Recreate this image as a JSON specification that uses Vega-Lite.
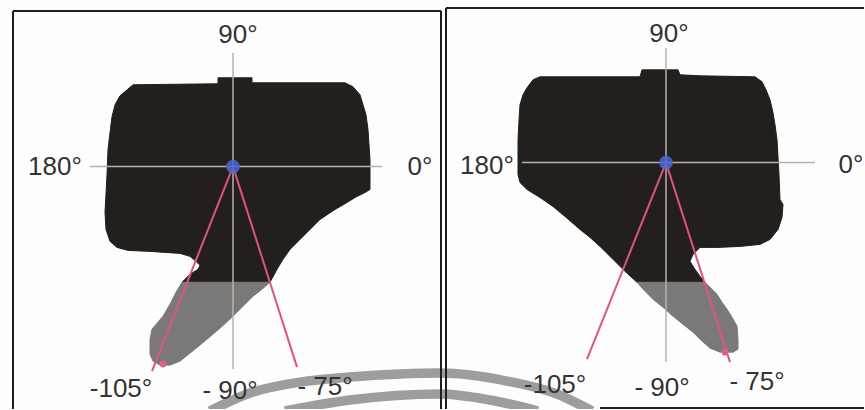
{
  "$schema": "https://vega.github.io/schema/vega-lite/v6.json",
  "width": 865,
  "height": 410,
  "autosize": {"type": "fit", "contains": "padding"},
  "padding": 0,
  "background": "#fdfdfd",
  "config": {"view": {"stroke": null}},
  "datasets": {
    "shapes": [
      {"id": "L1", "k": "black", "i": 1, "x": 126, "y": 91},
      {"id": "L1", "k": "black", "i": 2, "x": 133, "y": 85},
      {"id": "L1", "k": "black", "i": 3, "x": 218, "y": 84},
      {"id": "L1", "k": "black", "i": 4, "x": 218, "y": 78},
      {"id": "L1", "k": "black", "i": 5, "x": 252, "y": 78},
      {"id": "L1", "k": "black", "i": 6, "x": 252, "y": 83},
      {"id": "L1", "k": "black", "i": 7, "x": 345, "y": 83},
      {"id": "L1", "k": "black", "i": 8, "x": 353, "y": 87},
      {"id": "L1", "k": "black", "i": 9, "x": 360, "y": 95},
      {"id": "L1", "k": "black", "i": 10, "x": 363, "y": 105},
      {"id": "L1", "k": "black", "i": 11, "x": 366, "y": 115},
      {"id": "L1", "k": "black", "i": 12, "x": 368, "y": 130},
      {"id": "L1", "k": "black", "i": 13, "x": 370, "y": 160},
      {"id": "L1", "k": "black", "i": 14, "x": 370, "y": 190},
      {"id": "L1", "k": "black", "i": 15, "x": 365, "y": 193},
      {"id": "L1", "k": "black", "i": 16, "x": 355, "y": 198},
      {"id": "L1", "k": "black", "i": 17, "x": 347, "y": 203},
      {"id": "L1", "k": "black", "i": 18, "x": 335, "y": 210},
      {"id": "L1", "k": "black", "i": 19, "x": 320, "y": 220},
      {"id": "L1", "k": "black", "i": 20, "x": 310, "y": 230},
      {"id": "L1", "k": "black", "i": 21, "x": 300, "y": 240},
      {"id": "L1", "k": "black", "i": 22, "x": 290, "y": 250},
      {"id": "L1", "k": "black", "i": 23, "x": 283, "y": 260},
      {"id": "L1", "k": "black", "i": 24, "x": 277, "y": 270},
      {"id": "L1", "k": "black", "i": 25, "x": 270, "y": 283},
      {"id": "L1", "k": "black", "i": 26, "x": 182, "y": 283},
      {"id": "L1", "k": "black", "i": 27, "x": 190, "y": 275},
      {"id": "L1", "k": "black", "i": 28, "x": 198, "y": 270},
      {"id": "L1", "k": "black", "i": 29, "x": 200, "y": 266},
      {"id": "L1", "k": "black", "i": 30, "x": 196, "y": 262},
      {"id": "L1", "k": "black", "i": 31, "x": 190, "y": 257},
      {"id": "L1", "k": "black", "i": 32, "x": 180, "y": 254},
      {"id": "L1", "k": "black", "i": 33, "x": 150, "y": 252},
      {"id": "L1", "k": "black", "i": 34, "x": 128, "y": 251},
      {"id": "L1", "k": "black", "i": 35, "x": 117, "y": 248},
      {"id": "L1", "k": "black", "i": 36, "x": 110, "y": 242},
      {"id": "L1", "k": "black", "i": 37, "x": 106, "y": 230},
      {"id": "L1", "k": "black", "i": 38, "x": 105, "y": 213},
      {"id": "L1", "k": "black", "i": 39, "x": 107, "y": 175},
      {"id": "L1", "k": "black", "i": 40, "x": 108, "y": 150},
      {"id": "L1", "k": "black", "i": 41, "x": 110, "y": 133},
      {"id": "L1", "k": "black", "i": 42, "x": 112, "y": 117},
      {"id": "L1", "k": "black", "i": 43, "x": 115, "y": 105},
      {"id": "L1", "k": "black", "i": 44, "x": 120, "y": 96},
      {"id": "L2", "k": "gray", "i": 1, "x": 182, "y": 283},
      {"id": "L2", "k": "gray", "i": 2, "x": 270, "y": 283},
      {"id": "L2", "k": "gray", "i": 3, "x": 262, "y": 290},
      {"id": "L2", "k": "gray", "i": 4, "x": 253, "y": 297},
      {"id": "L2", "k": "gray", "i": 5, "x": 243, "y": 307},
      {"id": "L2", "k": "gray", "i": 6, "x": 233, "y": 317},
      {"id": "L2", "k": "gray", "i": 7, "x": 220, "y": 329},
      {"id": "L2", "k": "gray", "i": 8, "x": 207, "y": 340},
      {"id": "L2", "k": "gray", "i": 9, "x": 195, "y": 350},
      {"id": "L2", "k": "gray", "i": 10, "x": 180, "y": 362},
      {"id": "L2", "k": "gray", "i": 11, "x": 170, "y": 366},
      {"id": "L2", "k": "gray", "i": 12, "x": 160, "y": 366},
      {"id": "L2", "k": "gray", "i": 13, "x": 153, "y": 362},
      {"id": "L2", "k": "gray", "i": 14, "x": 150, "y": 355},
      {"id": "L2", "k": "gray", "i": 15, "x": 150, "y": 340},
      {"id": "L2", "k": "gray", "i": 16, "x": 152, "y": 330},
      {"id": "L2", "k": "gray", "i": 17, "x": 157, "y": 324},
      {"id": "L2", "k": "gray", "i": 18, "x": 163, "y": 317},
      {"id": "L2", "k": "gray", "i": 19, "x": 170, "y": 305},
      {"id": "L2", "k": "gray", "i": 20, "x": 176, "y": 293},
      {"id": "R1", "k": "black", "i": 1, "x": 527, "y": 88},
      {"id": "R1", "k": "black", "i": 2, "x": 533, "y": 80},
      {"id": "R1", "k": "black", "i": 3, "x": 540, "y": 77},
      {"id": "R1", "k": "black", "i": 4, "x": 640, "y": 77},
      {"id": "R1", "k": "black", "i": 5, "x": 642, "y": 70},
      {"id": "R1", "k": "black", "i": 6, "x": 678, "y": 70},
      {"id": "R1", "k": "black", "i": 7, "x": 680, "y": 75},
      {"id": "R1", "k": "black", "i": 8, "x": 700, "y": 76},
      {"id": "R1", "k": "black", "i": 9, "x": 755, "y": 77},
      {"id": "R1", "k": "black", "i": 10, "x": 762, "y": 82},
      {"id": "R1", "k": "black", "i": 11, "x": 766, "y": 90},
      {"id": "R1", "k": "black", "i": 12, "x": 770, "y": 100},
      {"id": "R1", "k": "black", "i": 13, "x": 773, "y": 113},
      {"id": "R1", "k": "black", "i": 14, "x": 775, "y": 125},
      {"id": "R1", "k": "black", "i": 15, "x": 777, "y": 140},
      {"id": "R1", "k": "black", "i": 16, "x": 779, "y": 175},
      {"id": "R1", "k": "black", "i": 17, "x": 780, "y": 200},
      {"id": "R1", "k": "black", "i": 18, "x": 783, "y": 205},
      {"id": "R1", "k": "black", "i": 19, "x": 782, "y": 218},
      {"id": "R1", "k": "black", "i": 20, "x": 778, "y": 230},
      {"id": "R1", "k": "black", "i": 21, "x": 770, "y": 240},
      {"id": "R1", "k": "black", "i": 22, "x": 760, "y": 245},
      {"id": "R1", "k": "black", "i": 23, "x": 740, "y": 247},
      {"id": "R1", "k": "black", "i": 24, "x": 718, "y": 248},
      {"id": "R1", "k": "black", "i": 25, "x": 700, "y": 248},
      {"id": "R1", "k": "black", "i": 26, "x": 693, "y": 255},
      {"id": "R1", "k": "black", "i": 27, "x": 690, "y": 262},
      {"id": "R1", "k": "black", "i": 28, "x": 695, "y": 270},
      {"id": "R1", "k": "black", "i": 29, "x": 700, "y": 277},
      {"id": "R1", "k": "black", "i": 30, "x": 705, "y": 283},
      {"id": "R1", "k": "black", "i": 31, "x": 637, "y": 283},
      {"id": "R1", "k": "black", "i": 32, "x": 625, "y": 272},
      {"id": "R1", "k": "black", "i": 33, "x": 615, "y": 262},
      {"id": "R1", "k": "black", "i": 34, "x": 600, "y": 247},
      {"id": "R1", "k": "black", "i": 35, "x": 590, "y": 238},
      {"id": "R1", "k": "black", "i": 36, "x": 580, "y": 230},
      {"id": "R1", "k": "black", "i": 37, "x": 565, "y": 217},
      {"id": "R1", "k": "black", "i": 38, "x": 553, "y": 207},
      {"id": "R1", "k": "black", "i": 39, "x": 540, "y": 198},
      {"id": "R1", "k": "black", "i": 40, "x": 527, "y": 190},
      {"id": "R1", "k": "black", "i": 41, "x": 520, "y": 183},
      {"id": "R1", "k": "black", "i": 42, "x": 518, "y": 175},
      {"id": "R1", "k": "black", "i": 43, "x": 518, "y": 140},
      {"id": "R1", "k": "black", "i": 44, "x": 519, "y": 120},
      {"id": "R1", "k": "black", "i": 45, "x": 520, "y": 105},
      {"id": "R1", "k": "black", "i": 46, "x": 523, "y": 95},
      {"id": "R2", "k": "gray", "i": 1, "x": 637, "y": 283},
      {"id": "R2", "k": "gray", "i": 2, "x": 705, "y": 283},
      {"id": "R2", "k": "gray", "i": 3, "x": 712, "y": 290},
      {"id": "R2", "k": "gray", "i": 4, "x": 717, "y": 295},
      {"id": "R2", "k": "gray", "i": 5, "x": 722, "y": 303},
      {"id": "R2", "k": "gray", "i": 6, "x": 727, "y": 310},
      {"id": "R2", "k": "gray", "i": 7, "x": 732, "y": 318},
      {"id": "R2", "k": "gray", "i": 8, "x": 737, "y": 327},
      {"id": "R2", "k": "gray", "i": 9, "x": 738, "y": 340},
      {"id": "R2", "k": "gray", "i": 10, "x": 738, "y": 350},
      {"id": "R2", "k": "gray", "i": 11, "x": 733, "y": 353},
      {"id": "R2", "k": "gray", "i": 12, "x": 720, "y": 353},
      {"id": "R2", "k": "gray", "i": 13, "x": 710, "y": 349},
      {"id": "R2", "k": "gray", "i": 14, "x": 700, "y": 340},
      {"id": "R2", "k": "gray", "i": 15, "x": 693, "y": 333},
      {"id": "R2", "k": "gray", "i": 16, "x": 683, "y": 325},
      {"id": "R2", "k": "gray", "i": 17, "x": 673, "y": 317},
      {"id": "R2", "k": "gray", "i": 18, "x": 663, "y": 308},
      {"id": "R2", "k": "gray", "i": 19, "x": 653, "y": 300},
      {"id": "R2", "k": "gray", "i": 20, "x": 645, "y": 292}
    ],
    "segs": [
      {"k": "cross", "x": 233, "y": 53, "x2": 233, "y2": 370},
      {"k": "cross", "x": 90, "y": 167, "x2": 382, "y2": 167},
      {"k": "cross", "x": 666, "y": 48, "x2": 666, "y2": 363},
      {"k": "cross", "x": 522, "y": 163, "x2": 815, "y2": 163},
      {"k": "pink", "x": 233, "y": 167, "x2": 152, "y2": 372},
      {"k": "pink", "x": 233, "y": 167, "x2": 297, "y2": 368},
      {"k": "pink", "x": 666, "y": 163, "x2": 587, "y2": 360},
      {"k": "pink", "x": 666, "y": 163, "x2": 730, "y2": 363},
      {"k": "frame", "x": 13, "y": 11, "x2": 13, "y2": 410},
      {"k": "frame", "x": 13, "y": 11, "x2": 441, "y2": 11},
      {"k": "frame", "x": 441, "y": 11, "x2": 441, "y2": 410},
      {"k": "frame", "x": 446, "y": 8, "x2": 446, "y2": 410},
      {"k": "frame", "x": 446, "y": 8, "x2": 864, "y2": 8},
      {"k": "frame", "x": 600, "y": 409, "x2": 864, "y2": 409}
    ],
    "dots": [
      {"k": "blue", "x": 233, "y": 167},
      {"k": "blue", "x": 666, "y": 163},
      {"k": "pink", "x": 163, "y": 365},
      {"k": "pink", "x": 725, "y": 353}
    ],
    "labels": [
      {"t": "90°", "x": 238, "y": 35},
      {"t": "180°", "x": 55, "y": 167},
      {"t": "0°", "x": 420, "y": 167},
      {"t": "-105°", "x": 121, "y": 390},
      {"t": "- 90°", "x": 230, "y": 392},
      {"t": "- 75°", "x": 325, "y": 388},
      {"t": "90°", "x": 669, "y": 34},
      {"t": "180°", "x": 487, "y": 166},
      {"t": "0°", "x": 851, "y": 165},
      {"t": "-105°", "x": 555, "y": 386},
      {"t": "- 90°", "x": 662, "y": 389},
      {"t": "- 75°", "x": 757, "y": 383}
    ],
    "arcs": [
      {"a": "outer", "i": 1, "x": 210, "y": 412},
      {"a": "outer", "i": 2, "x": 250, "y": 394},
      {"a": "outer", "i": 3, "x": 300, "y": 383},
      {"a": "outer", "i": 4, "x": 350, "y": 378},
      {"a": "outer", "i": 5, "x": 400, "y": 375},
      {"a": "outer", "i": 6, "x": 440, "y": 374},
      {"a": "outer", "i": 7, "x": 507, "y": 382},
      {"a": "outer", "i": 8, "x": 557, "y": 395},
      {"a": "outer", "i": 9, "x": 592, "y": 412},
      {"a": "inner", "i": 1, "x": 285, "y": 412},
      {"a": "inner", "i": 2, "x": 350, "y": 401},
      {"a": "inner", "i": 3, "x": 440, "y": 395},
      {"a": "inner", "i": 4, "x": 490, "y": 401},
      {"a": "inner", "i": 5, "x": 538, "y": 412}
    ]
  },
  "encoding": {
    "x": {"field": "x", "type": "quantitative", "scale": {"domain": [0, 865], "nice": false, "zero": false}, "axis": null},
    "y": {"field": "y", "type": "quantitative", "scale": {"domain": [0, 410], "nice": false, "zero": false, "reverse": true}, "axis": null}
  },
  "layer": [
    {
      "data": {"name": "shapes"},
      "transform": [{"filter": "datum.k === 'black'"}],
      "mark": {"type": "line", "interpolate": "linear-closed", "fill": "#231f1c", "stroke": "#231f1c", "strokeWidth": 1},
      "encoding": {"detail": {"field": "id"}, "order": {"field": "i", "type": "quantitative"}}
    },
    {
      "data": {"name": "shapes"},
      "transform": [{"filter": "datum.k === 'gray'"}],
      "mark": {"type": "line", "interpolate": "linear-closed", "fill": "#7b7978", "stroke": "#7b7978", "strokeWidth": 1},
      "encoding": {"detail": {"field": "id"}, "order": {"field": "i", "type": "quantitative"}}
    },
    {
      "data": {"name": "segs"},
      "transform": [{"filter": "datum.k === 'cross'"}],
      "mark": {"type": "rule", "color": "#b4b2ae", "strokeWidth": 1.5},
      "encoding": {"x2": {"field": "x2"}, "y2": {"field": "y2"}}
    },
    {
      "data": {"name": "segs"},
      "transform": [{"filter": "datum.k === 'pink'"}],
      "mark": {"type": "rule", "color": "#dc5480", "strokeWidth": 2},
      "encoding": {"x2": {"field": "x2"}, "y2": {"field": "y2"}}
    },
    {
      "data": {"name": "dots"},
      "transform": [{"filter": "datum.k === 'blue'"}],
      "mark": {"type": "point", "filled": true, "color": "#4a66d4", "opacity": 0.85, "size": 190},
      "encoding": {}
    },
    {
      "data": {"name": "dots"},
      "transform": [{"filter": "datum.k === 'pink'"}],
      "mark": {"type": "point", "filled": true, "color": "#e0608c", "opacity": 1, "size": 45},
      "encoding": {}
    },
    {
      "data": {"name": "arcs"},
      "mark": {"type": "line", "interpolate": "monotone", "color": "#9d9d9d", "strokeWidth": 9.5, "clip": true},
      "encoding": {"detail": {"field": "a"}, "order": {"field": "i", "type": "quantitative"}}
    },
    {
      "data": {"name": "segs"},
      "transform": [{"filter": "datum.k === 'frame'"}],
      "mark": {"type": "rule", "color": "#1e1e1e", "strokeWidth": 2},
      "encoding": {"x2": {"field": "x2"}, "y2": {"field": "y2"}}
    },
    {
      "data": {"name": "labels"},
      "mark": {"type": "text", "font": "Liberation Sans", "fontSize": 26, "color": "#333333", "align": "center", "baseline": "middle"},
      "encoding": {"text": {"field": "t"}}
    }
  ]
}
